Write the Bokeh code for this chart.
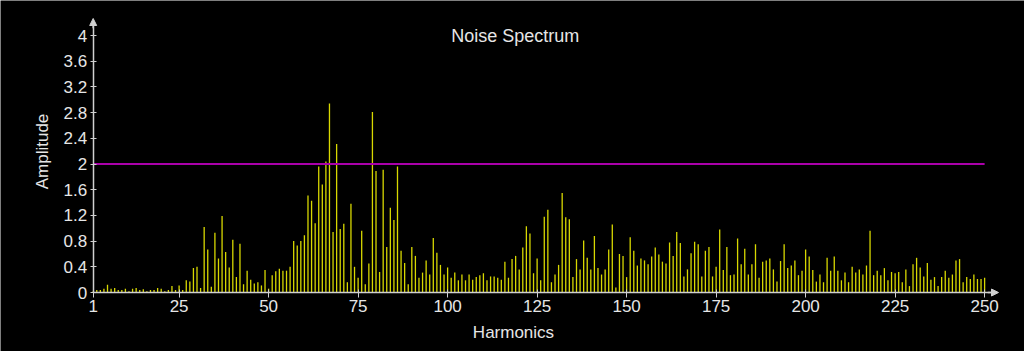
import re
from bokeh.plotting import figure
from bokeh.models import Range1d, FixedTicker, Label, Arrow, NormalHead, ColumnDataSource
from bokeh.embed import file_html
from bokeh.resources import INLINE

# ---------------- data ----------------
harmonics = list(range(1, 251))
amplitude = [
    0.02, 0.04, 0.04, 0.06, 0.12, 0.06, 0.07, 0.04, 0.04, 0.06,
    0.02, 0.06, 0.07, 0.04, 0.05, 0.02, 0.04, 0.04, 0.07, 0.06,
    0.02, 0.04, 0.10, 0.04, 0.11, 0.04, 0.19, 0.17, 0.38, 0.40,
    0.07, 1.02, 0.67, 0.09, 0.93, 0.53, 1.19, 0.63, 0.39, 0.82,
    0.24, 0.76, 0.13, 0.34, 0.20, 0.14, 0.16, 0.11, 0.35, 0.06,
    0.27, 0.33, 0.37, 0.34, 0.34, 0.40, 0.80, 0.73, 0.80, 0.89,
    1.51, 1.43, 1.08, 1.96, 1.68, 2.04, 2.94, 0.94, 2.31, 0.99,
    1.07, 0.16, 1.38, 0.40, 0.23, 0.96, 0.13, 0.45, 2.81, 1.89,
    0.32, 1.91, 0.71, 1.32, 1.13, 1.96, 0.65, 0.46, 0.13, 0.71,
    0.57, 0.23, 0.31, 0.50, 0.28, 0.85, 0.62, 0.43, 0.28, 0.39,
    0.23, 0.31, 0.19, 0.28, 0.19, 0.28, 0.20, 0.24, 0.27, 0.30,
    0.19, 0.25, 0.25, 0.23, 0.20, 0.48, 0.23, 0.52, 0.57, 0.36,
    0.70, 1.03, 0.92, 0.30, 0.53, 0.19, 1.18, 1.29, 0.16, 0.28,
    0.43, 1.55, 1.17, 1.14, 0.24, 0.52, 0.36, 0.81, 0.54, 0.36,
    0.88, 0.38, 0.28, 0.36, 0.67, 1.06, 0.08, 0.60, 0.57, 0.24,
    0.86, 0.65, 0.42, 0.53, 0.50, 0.44, 0.56, 0.70, 0.59, 0.48,
    0.45, 0.78, 0.57, 0.94, 0.77, 0.25, 0.36, 0.61, 0.79, 0.75,
    0.25, 0.65, 0.71, 0.25, 0.40, 0.98, 0.35, 0.71, 0.27, 0.28,
    0.84, 0.44, 0.68, 0.28, 0.44, 0.75, 0.23, 0.48, 0.50, 0.53,
    0.36, 0.17, 0.49, 0.75, 0.38, 0.42, 0.50, 0.27, 0.34, 0.67,
    0.56, 0.35, 0.17, 0.28, 0.16, 0.54, 0.34, 0.56, 0.34, 0.19,
    0.31, 0.16, 0.40, 0.31, 0.36, 0.28, 0.42, 0.96, 0.27, 0.34,
    0.27, 0.38, 0.19, 0.32, 0.30, 0.32, 0.16, 0.36, 0.10, 0.44,
    0.54, 0.39, 0.25, 0.46, 0.20, 0.24, 0.10, 0.24, 0.34, 0.23,
    0.28, 0.50, 0.52, 0.16, 0.24, 0.21, 0.28, 0.21, 0.21, 0.23,
]
threshold = 2.0
x_ticks = [1, 25, 50, 75, 100, 125, 150, 175, 200, 225, 250]
y_ticks = [0, 0.4, 0.8, 1.2, 1.6, 2, 2.4, 2.8, 3.2, 3.6, 4]
y_tick_labels = ["0", "0.4", "0.8", "1.2", "1.6", "2", "2.4", "2.8", "3.2", "3.6", "4"]
title_text = "Noise Spectrum"
x_label = "Harmonics"
y_label = "Amplitude"

# ---------------- style ----------------
FONT = "Liberation Sans"
TXT = "#e6e6e6"
AXIS = "#d0d0d0"
BAR = "#d8d800"
LINE = "#aa00aa"

# the frame covers the whole canvas; axes are pinned inside it
X0, X1 = -24.89, 261.14
Y0, Y1 = -0.918, 4.545
x_tip = 253.88
y_tip = 4.265

p = figure(width=1024, height=351, output_backend="svg", toolbar_location=None,
           x_range=Range1d(X0, X1), y_range=Range1d(Y0, Y1),
           min_border=0)
p.background_fill_color = "black"
p.border_fill_color = "black"
p.outline_line_color = None
p.grid.visible = False

src = ColumnDataSource(dict(h=harmonics, a=amplitude, z=[0] * len(harmonics)))
p.segment(x0="h", y0="z", x1="h", y1="a", source=src, line_color=BAR, line_width=1.3)

p.segment(x0=[harmonics[0]], y0=[threshold], x1=[harmonics[-1]], y1=[threshold],
          line_color=LINE, line_width=2)

for ax in (p.xaxis[0], p.yaxis[0]):
    ax.axis_line_color = AXIS
    ax.axis_line_width = 1.5
    ax.major_tick_line_color = AXIS
    ax.minor_tick_line_color = None
    ax.major_label_text_color = TXT
    ax.major_label_text_font = FONT
    ax.major_label_text_font_size = "17px"

p.xaxis.fixed_location = 0
p.xaxis.bounds = (1, x_tip - 1)
p.xaxis.ticker = FixedTicker(ticks=x_ticks)
p.xaxis.major_tick_out = 5
p.xaxis.major_tick_in = 3
p.xaxis.major_label_standoff = 2

p.yaxis.fixed_location = 1
p.yaxis.bounds = (0, y_tip - 0.05)
p.yaxis.ticker = FixedTicker(ticks=y_ticks)
p.yaxis.major_label_overrides = {t: s for t, s in zip(y_ticks, y_tick_labels)}
p.yaxis.major_tick_out = 3
p.yaxis.major_tick_in = 3
p.yaxis.major_label_standoff = 3

# arrow heads at axis ends
p.add_layout(Arrow(end=NormalHead(size=7, fill_color=AXIS, line_color=AXIS, line_width=1),
                   x_start=x_tip - 3, y_start=0, x_end=x_tip, y_end=0,
                   line_color=AXIS, line_width=1.5))
p.add_layout(Arrow(end=NormalHead(size=7, fill_color=AXIS, line_color=AXIS, line_width=1),
                   x_start=1, y_start=y_tip - 0.15, x_end=1, y_end=y_tip,
                   line_color=AXIS, line_width=1.5))

p.add_layout(Label(x=118.9, y=4.0, text=title_text, text_align="center", text_baseline="middle",
                   text_color=TXT, text_font=FONT, text_font_size="18px"))
p.add_layout(Label(x=118.4, y=-0.62, text=x_label, text_align="center", text_baseline="middle",
                   text_color=TXT, text_font=FONT, text_font_size="17px"))
p.add_layout(Label(x=-13.16, y=2.195, text=y_label, text_align="center", text_baseline="middle",
                   angle=1.5707963, text_color=TXT, text_font=FONT, text_font_size="17px"))

html = file_html(p, INLINE)
html = re.sub(r"<body([^>]*)>", r'<body\1 style="margin:0;background:#000000;">', html, count=1)
open("out.html", "w").write(html)
